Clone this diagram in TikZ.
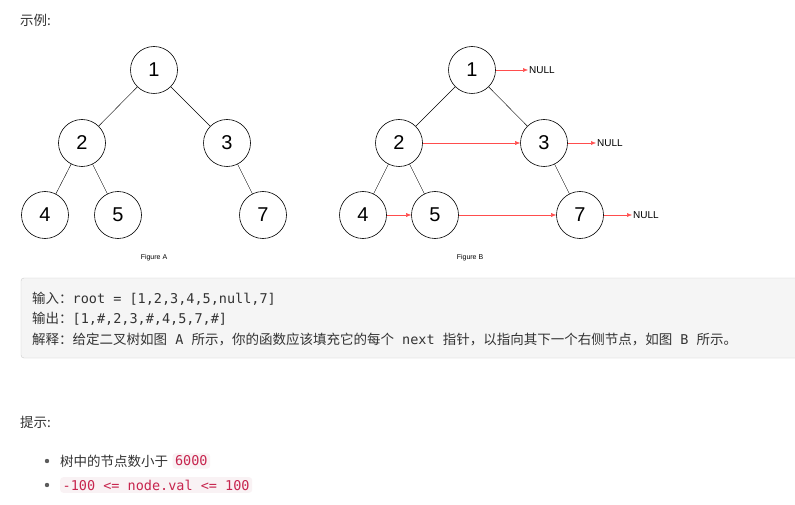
\documentclass[tikz,border=0pt]{standalone}
\usepackage{fontspec}
\setmainfont{Liberation Sans}
\newfontfamily\cjk{Noto Sans CJK SC}
\newfontfamily\mono{DejaVu Sans Mono}
\definecolor{codebg}{HTML}{F5F5F5}
\definecolor{codebd}{HTML}{CCCCCC}
\definecolor{pinkbg}{HTML}{F9F2F4}
\definecolor{crim}{HTML}{C7254E}
\definecolor{txt}{HTML}{333333}
\definecolor{nxred}{HTML}{FF4D4D}
\usetikzlibrary{arrows.meta}
\tikzset{
 tn/.style={circle,draw,line width=0.6pt,minimum size=47pt,inner sep=0pt,font=\fontsize{20}{20}\selectfont},
 edge/.style={line width=0.4pt},
 nx/.style={nxred,line width=0.5pt,-{Latex[length=5pt,width=4pt]}},
 nl/.style={font=\fontsize{10}{10}\selectfont,anchor=west,inner sep=1pt},
 figcap/.style={font=\fontsize{7}{7}\selectfont},
 ln/.style={anchor=west,inner sep=0pt,text=txt,font=\fontsize{13.5}{13.5}\selectfont},
 hl/.style={fill=pinkbg,text=crim,rounded corners=3pt,inner sep=2.5pt,anchor=west,font=\mono\fontsize{13.5}{13.5}\selectfont}
}
\begin{document}
\begin{tikzpicture}[x=1pt,y=-1pt]
\useasboundingbox[fill=white] (0,0) rectangle (795,505);
\node[ln] (t1) at (20,20) {\cjk 示例:};
% Tree A
\node[tn] (a1) at (154,70) {1};
\node[tn] (a2) at (82,143) {2};
\node[tn] (a3) at (227,143) {3};
\node[tn] (a4) at (45,215) {4};
\node[tn] (a5) at (118,215) {5};
\node[tn] (a7) at (263,215) {7};
\draw[edge] (a1)--(a2); \draw[edge] (a1)--(a3);
\draw[edge] (a2)--(a4); \draw[edge] (a2)--(a5); \draw[edge] (a3)--(a7);
\node[figcap] (fa) at (154,258) {Figure A};
% Tree B
\node[tn] (b1) at (472,70) {1};
\node[tn] (b2) at (399,143) {2};
\node[tn] (b3) at (544,143) {3};
\node[tn] (b4) at (363,215) {4};
\node[tn] (b5) at (435,215) {5};
\node[tn] (b7) at (580,215) {7};
\draw[edge] (b1)--(b2); \draw[edge] (b1)--(b3);
\draw[edge] (b2)--(b4); \draw[edge] (b2)--(b5); \draw[edge] (b3)--(b7);
\node[nl] (n1) at (528,70) {NULL};
\node[nl] (n3) at (596,143) {NULL};
\node[nl] (n7) at (632,215) {NULL};
\draw[nx] (b1)--(n1); \draw[nx] (b3)--(n3); \draw[nx] (b7)--(n7);
\draw[nx] (b2)--(b3); \draw[nx] (b4)--(b5); \draw[nx] (b5)--(b7);
\node[figcap] (fb) at (470,258) {Figure B};
% code box
\draw[fill=codebg,draw=codebd,rounded corners=3pt] (21,278) rectangle (800,358);
\node[ln] (c1) at (32,299) {\cjk 输入：\mono root = [1,2,3,4,5,null,7]};
\node[ln] (c2) at (32,319) {\cjk 输出：\mono [1,\#,2,3,\#,4,5,7,\#]};
\node[ln] (c3) at (32,339) {\cjk 解释：给定二叉树如图\mono\ A\ \cjk 所示，你的函数应该填充它的每个\mono\ next\ \cjk 指针，以指向其下一个右侧节点，如图\mono\ B\ \cjk 所示。};
\node[ln] (t2) at (20,422) {\cjk 提示:};
\fill[txt!80] (47,461) circle (2.2);
\fill[txt!80] (47,485) circle (2.2);
\node[ln] (b1t) at (60,461) {\cjk 树中的节点数小于};
\node[hl] (h1) at (b1t.east) [xshift=4pt] {6000};
\node[hl] (h2) at (60,485) {-100 <= node.val <= 100};
\end{tikzpicture}
\end{document}
